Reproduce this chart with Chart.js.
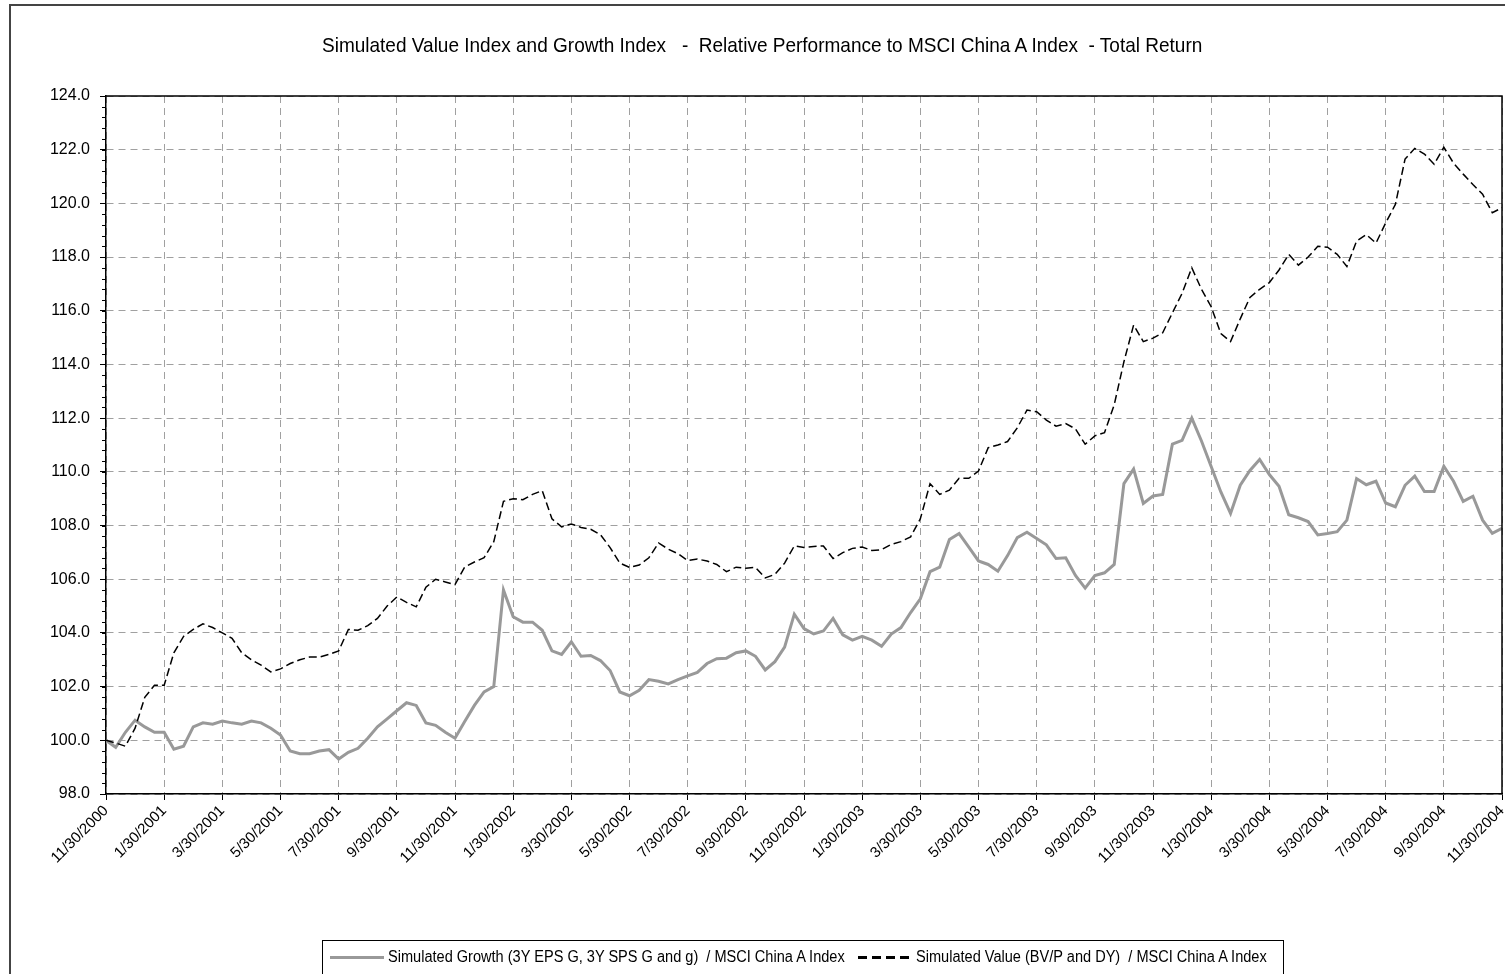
<!DOCTYPE html>
<html>
<head>
<meta charset="utf-8">
<title>Simulated Value Index and Growth Index</title>
<script src="https://cdn.jsdelivr.net/npm/chart.js@4.4.1/dist/chart.umd.min.js"></script>
<style>
  html, body { margin: 0; padding: 0; background: #fff; }
  #wrap { position: relative; width: 1505px; height: 974px; overflow: hidden; }
  #frame { position: absolute; left: 9px; top: 4px; width: 1600px; height: 1100px;
           border-left: 2px solid #444; border-top: 2px solid #444; }
  #grafica { position: absolute; left: 0; top: 0; }
  #titulo { position: absolute; left: 322px; top: 33px; transform-origin: 0 0;
            transform: scaleX(0.905);
            font-family: 'Liberation Sans', Arial, sans-serif;
            font-size: 21px; color: #000; white-space: pre; }
  #leyenda { position: absolute; left: 322px; top: 940px; width: 962px; height: 40px;
             border: 1px solid #000; box-sizing: border-box; }
  #leyenda .item { position: absolute; top: 7px; transform-origin: 0 0; transform: scaleX(0.91);
                   font-family: 'Liberation Sans', Arial, sans-serif;
                   font-size: 16px; color: #000; white-space: pre; }
  #leyenda .muestra { position: absolute; top: 15px; width: 54px; height: 3px; }
  #m-growth { left: 7px; background: #999; }
  #m-value { left: 535px; height: 2px; top: 16px;
             background: repeating-linear-gradient(90deg, #000 0 9px, transparent 9px 14px); }
</style>
</head>
<body>
<div id="wrap">
  <div id="frame"></div>
  <canvas id="grafica" width="1505" height="974"></canvas>
  <div id="titulo">Simulated Value Index and Growth Index   -  Relative Performance to MSCI China A Index  - Total Return</div>
  <div id="leyenda">
    <span class="muestra" id="m-growth"></span>
    <span class="item" style="left:65px">Simulated Growth (3Y EPS G, 3Y SPS G and g)  / MSCI China A Index</span>
    <span class="muestra" id="m-value"></span>
    <span class="item" style="left:593px">Simulated Value (BV/P and DY)  / MSCI China A Index</span>
  </div>
</div>
<script>
'use strict';

/* ── Etiquetas del eje X (cada 2 meses) ── */
const TICK_LABELS = [
  '11/30/2000', '1/30/2001', '3/30/2001', '5/30/2001', '7/30/2001', '9/30/2001',
  '11/30/2001', '1/30/2002', '3/30/2002', '5/30/2002', '7/30/2002', '9/30/2002',
  '11/30/2002', '1/30/2003', '3/30/2003', '5/30/2003', '7/30/2003', '9/30/2003',
  '11/30/2003', '1/30/2004', '3/30/2004', '5/30/2004', '7/30/2004', '9/30/2004',
  '11/30/2004'
];
/* 6 observaciones por cada intervalo de 2 meses */
const PUNTOS_POR_TICK = 6;

/* ── Series ── */
const GROWTH = [
  100.0, 99.74, 100.3, 100.75, 100.5, 100.3, 100.3, 99.67, 99.78, 100.5,
  100.65, 100.6, 100.72, 100.65, 100.6, 100.72, 100.65, 100.45, 100.2, 99.6,
  99.5, 99.5, 99.6, 99.65, 99.3, 99.55, 99.7, 100.08, 100.5, 100.8,
  101.1, 101.4, 101.3, 100.65, 100.56, 100.3, 100.08, 100.7, 101.3, 101.8,
  102.0, 105.6, 104.6, 104.4, 104.4, 104.1, 103.33, 103.2, 103.67, 103.13,
  103.16, 102.97, 102.6, 101.8, 101.66, 101.86, 102.26, 102.2, 102.1, 102.26,
  102.4, 102.53, 102.86, 103.04, 103.06, 103.26, 103.33, 103.13, 102.62, 102.93,
  103.47, 104.7, 104.16, 103.96, 104.07, 104.54, 103.93, 103.73, 103.87, 103.73,
  103.5, 103.96, 104.2, 104.76, 105.27, 106.28, 106.45, 107.48, 107.7, 107.2,
  106.68, 106.55, 106.3, 106.88, 107.55, 107.75, 107.52, 107.28, 106.77, 106.8,
  106.14, 105.67, 106.14, 106.24, 106.55, 109.56, 110.1, 108.82, 109.1, 109.16,
  111.03, 111.17, 112.0, 111.15, 110.2, 109.25, 108.45, 109.5, 110.05, 110.46,
  109.9, 109.46, 108.4, 108.29, 108.15, 107.65, 107.7, 107.77, 108.2, 109.75,
  109.52, 109.65, 108.84, 108.7, 109.5, 109.84, 109.27, 109.27, 110.21, 109.65,
  108.9, 109.09, 108.2, 107.71, 107.9
];

const VALUE = [
  100.0, 99.9, 99.78, 100.45, 101.6, 102.05, 102.05, 103.26, 103.87, 104.13,
  104.34, 104.2, 104.0, 103.8, 103.26, 103.0, 102.8, 102.55, 102.66, 102.86,
  103.0, 103.1, 103.1, 103.2, 103.33, 104.13, 104.1, 104.27, 104.54, 105.0,
  105.34, 105.14, 104.97, 105.7, 106.0, 105.9, 105.8, 106.45, 106.64, 106.8,
  107.4, 108.9, 109.0, 108.96, 109.16, 109.3, 108.25, 107.95, 108.06, 107.93,
  107.86, 107.66, 107.18, 106.6, 106.44, 106.53, 106.8, 107.35, 107.12, 106.95,
  106.7, 106.75, 106.68, 106.55, 106.28, 106.45, 106.41, 106.44, 106.05, 106.18,
  106.6, 107.24, 107.18, 107.22, 107.24, 106.77, 106.99, 107.15, 107.2, 107.07,
  107.1, 107.3, 107.4, 107.58, 108.25, 109.56, 109.16, 109.32, 109.76, 109.76,
  110.03, 110.9, 111.0, 111.13, 111.64, 112.3, 112.24, 111.93, 111.7, 111.8,
  111.6, 111.03, 111.34, 111.46, 112.5, 114.1, 115.47, 114.85, 114.98, 115.18,
  115.92, 116.65, 117.6, 116.8, 116.15, 115.15, 114.85, 115.7, 116.5, 116.8,
  117.05, 117.52, 118.1, 117.7, 118.0, 118.4, 118.37, 118.1, 117.65, 118.6,
  118.84, 118.52, 119.27, 119.96, 121.65, 122.05, 121.84, 121.46, 122.09, 121.5,
  121.09, 120.7, 120.34, 119.65, 119.84
];

/* ── Eje Y ── */
const Y_MIN = 98;
const Y_MAX = 124;
const Y_PASO = 2;
const Y_PASO_MENOR = 0.4;

const FUENTE = "'Liberation Sans', Arial, sans-serif";

/* Marco del área de trazado + marcas menores del eje Y */
const marcoPlugin = {
  id: 'marco',
  afterDraw(chart) {
    const { ctx, chartArea: a, scales } = chart;
    ctx.save();
    ctx.strokeStyle = '#000';
    ctx.lineWidth = 1.5;
    ctx.beginPath();
    ctx.moveTo(a.left, a.top);
    ctx.lineTo(a.right, a.top);
    ctx.lineTo(a.right, a.bottom);
    ctx.stroke();

    ctx.lineWidth = 1;
    ctx.beginPath();
    for (let v = Y_MIN; v <= Y_MAX + 1e-9; v += Y_PASO_MENOR) {
      const y = Math.round(scales.y.getPixelForValue(v)) + 0.5;
      ctx.moveTo(a.left - 4, y);
      ctx.lineTo(a.left, y);
    }
    ctx.stroke();
    ctx.restore();
  }
};

function dibujarGrafica() {
  const ctx = document.getElementById('grafica').getContext('2d');
  const aPuntos = serie => serie.map((v, i) => ({ x: i, y: v }));

  new Chart(ctx, {
    type: 'line',
    data: {
      datasets: [
        {
          label: 'Simulated Value (BV/P and DY)  / MSCI China A Index',
          data: aPuntos(VALUE),
          borderColor: '#000',
          borderWidth: 1.5,
          borderDash: [8, 4],
          pointRadius: 0,
          tension: 0,
          fill: false,
        },
        {
          label: 'Simulated Growth (3Y EPS G, 3Y SPS G and g)  / MSCI China A Index',
          data: aPuntos(GROWTH),
          borderColor: '#999999',
          borderWidth: 3,
          pointRadius: 0,
          tension: 0,
          fill: false,
        }
      ]
    },
    options: {
      responsive: false,
      animation: false,
      layout: { padding: { left: 0, top: 96, right: 3, bottom: 0 } },
      plugins: {
        legend: { display: false },
        title: { display: false },
        tooltip: { enabled: false }
      },
      scales: {
        x: {
          type: 'linear',
          min: 0,
          max: (TICK_LABELS.length - 1) * PUNTOS_POR_TICK,
          afterFit: s => { s.height = 180; s.paddingLeft = 0; s.paddingRight = 0; },
          ticks: {
            stepSize: PUNTOS_POR_TICK,
            autoSkip: false,
            minRotation: 45,
            maxRotation: 45,
            padding: 2,
            color: '#000',
            font: { family: FUENTE, size: 15 },
            callback: v => TICK_LABELS[Math.round(v / PUNTOS_POR_TICK)]
          },
          grid: { color: '#a0a0a0', lineWidth: 1, tickLength: 6, tickColor: '#000', drawTicks: true },
          border: { display: true, color: '#000', width: 1.5, dash: [7, 5] }
        },
        y: {
          min: Y_MIN,
          max: Y_MAX,
          afterFit: s => { s.width = 106; },
          ticks: {
            stepSize: Y_PASO,
            padding: 10,
            color: '#000',
            font: { family: FUENTE, size: 16 },
            callback: v => v.toFixed(1)
          },
          grid: { color: '#a0a0a0', lineWidth: 1, tickLength: 6, tickColor: '#000', drawTicks: true },
          border: { display: true, color: '#000', width: 1.5, dash: [7, 5] }
        }
      }
    },
    plugins: [marcoPlugin]
  });
}

document.addEventListener('DOMContentLoaded', dibujarGrafica);
</script>
</body>
</html>
